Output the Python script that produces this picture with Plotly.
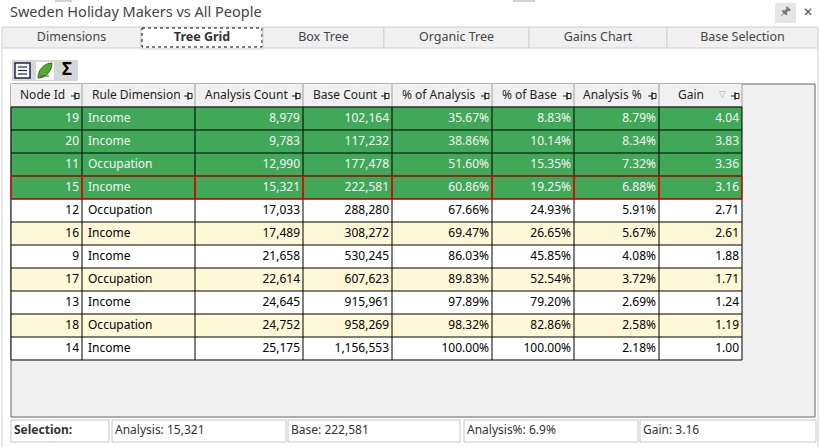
import plotly.graph_objects as go

# ---- data ----
title = "Sweden Holiday Makers vs All People"
tab_labels = ["Dimensions", "Tree Grid", "Box Tree", "Organic Tree", "Gains Chart", "Base Selection"]
headers = ["Node Id", "Rule Dimension", "Analysis Count", "Base Count",
           "% of Analysis", "% of Base", "Analysis %", "Gain"]

node_ids = [19, 20, 11, 15, 12, 16, 9, 17, 13, 18, 14]
rule_dims = ["Income", "Income", "Occupation", "Income", "Occupation", "Income",
             "Income", "Occupation", "Income", "Occupation", "Income"]
analysis_count = [8979, 9783, 12990, 15321, 17033, 17489, 21658, 22614, 24645, 24752, 25175]
base_count = [102164, 117232, 177478, 222581, 288280, 308272, 530245, 607623, 915961, 958269, 1156553]
pct_analysis = [35.67, 38.86, 51.60, 60.86, 67.66, 69.47, 86.03, 89.83, 97.89, 98.32, 100.00]
pct_base = [8.83, 10.14, 15.35, 19.25, 24.93, 26.65, 45.85, 52.54, 79.20, 82.86, 100.00]
analysis_pct = [8.79, 8.34, 7.32, 6.88, 5.91, 5.67, 4.08, 3.72, 2.69, 2.58, 2.18]
gain = [4.04, 3.83, 3.36, 3.16, 2.71, 2.61, 1.88, 1.71, 1.24, 1.19, 1.00]

n_green = 4        # rows in the selection (green)
selected_row = 3   # focused row (red outline)

# ---- layout constants (pixels) ----
W, H = 820, 447
FONT = "Segoe UI, Noto Sans, sans-serif"
tab_edges = [2, 141, 263, 384, 529, 667, 818]
tab_top, tab_bot = 27, 48
col_edges = [11, 82, 195, 303, 392, 492, 574, 659, 742]
head_top, head_bot = 84, 107
row_h = 23
grid_box = (11, 84, 815, 417)
status_edges = [(11, 109), (112, 286), (288, 460), (464, 638), (640, 816)]
status_top, status_bot = 420, 442

GREEN = "#41a85a"
YELLOW = "#fff8d6"

shapes = []


def rect(x0, y0, x1, y1, fill=None, line=None, width=1, dash=None):
    ln = dict(width=width if line else 0, color=line or "rgba(0,0,0,0)")
    if dash:
        ln["dash"] = dash
    shapes.append(dict(type="rect", xref="x", yref="y", x0=x0, y0=y0, x1=x1, y1=y1,
                       fillcolor=fill or "rgba(0,0,0,0)", line=ln, layer="below"))


def hline(x0, x1, y, color, width=1):
    shapes.append(dict(type="line", xref="x", yref="y", x0=x0, x1=x1, y0=y, y1=y,
                       line=dict(color=color, width=width), layer="below"))


def vline(x, y0, y1, color, width=1):
    shapes.append(dict(type="line", xref="x", yref="y", x0=x, x1=x, y0=y0, y1=y1,
                       line=dict(color=color, width=width), layer="below"))


fig = go.Figure()


def add_text(xs, ys, texts, pos, size=12, color="#000", bold=False, family=FONT):
    if bold:
        texts = [f"<b>{t}</b>" for t in texts]
    fig.add_trace(go.Scatter(
        x=xs, y=ys, text=texts, mode="text", textposition=pos,
        textfont=dict(family=family, size=size, color=color),
        hoverinfo="skip", showlegend=False, cliponaxis=False))


# ---- window chrome ----
rect(55, 0, 72, 2, fill="#d4d4d4")
rect(513, 0, 535, 2, fill="#d4d4d4")
add_text([10], [13], [title], "middle right", size=14.5, color="#444444")
rect(775, 3, 796, 23, fill="#e6e6e6")
add_text([785.5], [12], ["🖈"], "middle center", size=12, color="#777777")
add_text([808], [13], ["✕"], "middle center", size=12, color="#555555")

# tabs
for i, lab in enumerate(tab_labels):
    x0, x1 = tab_edges[i], tab_edges[i + 1]
    if i == 1:
        rect(x0, tab_top, x1, tab_bot + 1, fill="white", line="#d0d0d0")
        rect(x0 + 1, tab_top + 1, x1 - 1, tab_bot - 1, line="#000000", dash="dot")
        add_text([(x0 + x1) / 2], [38], [lab], "middle center", size=12.5, color="#333333", bold=True)
    else:
        rect(x0, tab_top, x1, tab_bot, fill="#f0f0f0", line="#d0d0d0")
        add_text([(x0 + x1) / 2], [38], [lab], "middle center", size=12.5, color="#444444")
# panel borders
vline(2, tab_bot, H, "#d0d0d0")
vline(818, tab_bot, H, "#d0d0d0")

# toolbar
rect(12, 60, 78, 81, fill="#d6d6d6")
rect(15, 63, 30, 78, fill="white", line="#1c2452", width=1.5)
for yy in (67, 70.5, 74):
    hline(18, 27, yy, "#1c2452", width=1.2)
rect(36, 62, 54, 80, fill="white")
shapes.append(dict(type="path", xref="x", yref="y", layer="below",
                   path="M 38 78 C 38 70, 44 63, 52 63 C 52 71, 46 78, 38 78 Z",
                   fillcolor="#5aa832", line=dict(color="#2f6e14", width=1)))
hline(40, 49, 76, "#2f6e14")
add_text([67], [71], ["Σ"], "middle center", size=17, color="#000000", bold=True)

# ---- grid ----
rect(*grid_box, fill="#f0f0f0", line="#646464")
rect(col_edges[0], head_top, col_edges[-1], head_bot, fill="#f0f0f0")
for e in col_edges[1:]:
    vline(e, head_top, head_bot, "#a0a0a0")
hline(col_edges[0], col_edges[-1], head_bot, "#a0a0a0")

n = len(node_ids)
row_y = [head_bot + (i + 0.5) * row_h for i in range(n)]
for i in range(n):
    y0 = head_bot + i * row_h
    if i < n_green:
        fill = GREEN
    else:
        fill = "white" if (i - n_green) % 2 == 0 else YELLOW
    rect(col_edges[0], y0, col_edges[-1], y0 + row_h, fill=fill)
table_bot = head_bot + n * row_h
for i in range(n + 1):
    hline(col_edges[0], col_edges[-1], head_bot + i * row_h, "#000000")
for e in col_edges:
    vline(e, head_bot, table_bot, "#000000")
sy0 = head_bot + selected_row * row_h
for j in range(len(col_edges) - 1):
    rect(col_edges[j], sy0, col_edges[j + 1], sy0 + row_h, line="#ff0000")

# header labels and pin glyphs
head_pad = [9, 10, 10, 10, 10, 10, 9, 19]
for j, h in enumerate(headers):
    add_text([col_edges[j] + head_pad[j]], [96], [h], "middle right", size=12, color="#1e1e1e")
    e = col_edges[j + 1]
    hline(e - 11, e - 7, 96, "#1e1e1e")
    vline(e - 7, 92, 100, "#1e1e1e")
    rect(e - 7, 93.5, e - 3, 98.5, line="#1e1e1e")
add_text([col_edges[-1] - 20], [95], ["▽"], "middle center", size=9, color="#a8a8a8")

# cell texts
txt_color = ["#f4f4f4" if i < n_green else "#000000" for i in range(n)]
columns = [
    [str(v) for v in node_ids],
    rule_dims,
    [f"{v:,}" for v in analysis_count],
    [f"{v:,}" for v in base_count],
    [f"{v:.2f}%" for v in pct_analysis],
    [f"{v:.2f}%" for v in pct_base],
    [f"{v:.2f}%" for v in analysis_pct],
    [f"{v:.2f}" for v in gain],
]
for j, col in enumerate(columns):
    if j == 1:
        xs, pos = [col_edges[j] + 6] * n, "middle right"
    else:
        xs, pos = [col_edges[j + 1] - 3] * n, "middle left"
    fig.add_trace(go.Scatter(
        x=xs, y=row_y, text=col, mode="text", textposition=pos,
        textfont=dict(family=FONT, size=12, color=txt_color),
        hoverinfo="skip", showlegend=False, cliponaxis=False))

# ---- status bar ----
s = selected_row
status_texts = ["Selection:",
                f"Analysis: {analysis_count[s]:,}",
                f"Base: {base_count[s]:,}",
                f"Analysis%: {analysis_pct[s]:.1f}%",
                f"Gain: {gain[s]:.2f}"]
for k, (x0, x1) in enumerate(status_edges):
    rect(x0, status_top, x1, status_bot, fill="white", line="#c8c8c8")
    add_text([x0 + 3], [(status_top + status_bot) / 2], [status_texts[k]], "middle right",
             size=12, color="#333333", bold=(k == 0))

fig.update_layout(
    width=W, height=H,
    margin=dict(l=0, r=0, t=0, b=0),
    paper_bgcolor="white", plot_bgcolor="white",
    xaxis=dict(range=[0, W], visible=False, fixedrange=True),
    yaxis=dict(range=[H, 0], visible=False, fixedrange=True),
    shapes=shapes,
)

fig.write_html("out.html", config={"displayModeBar": False},
               post_script="document.body.style.margin='0';")
